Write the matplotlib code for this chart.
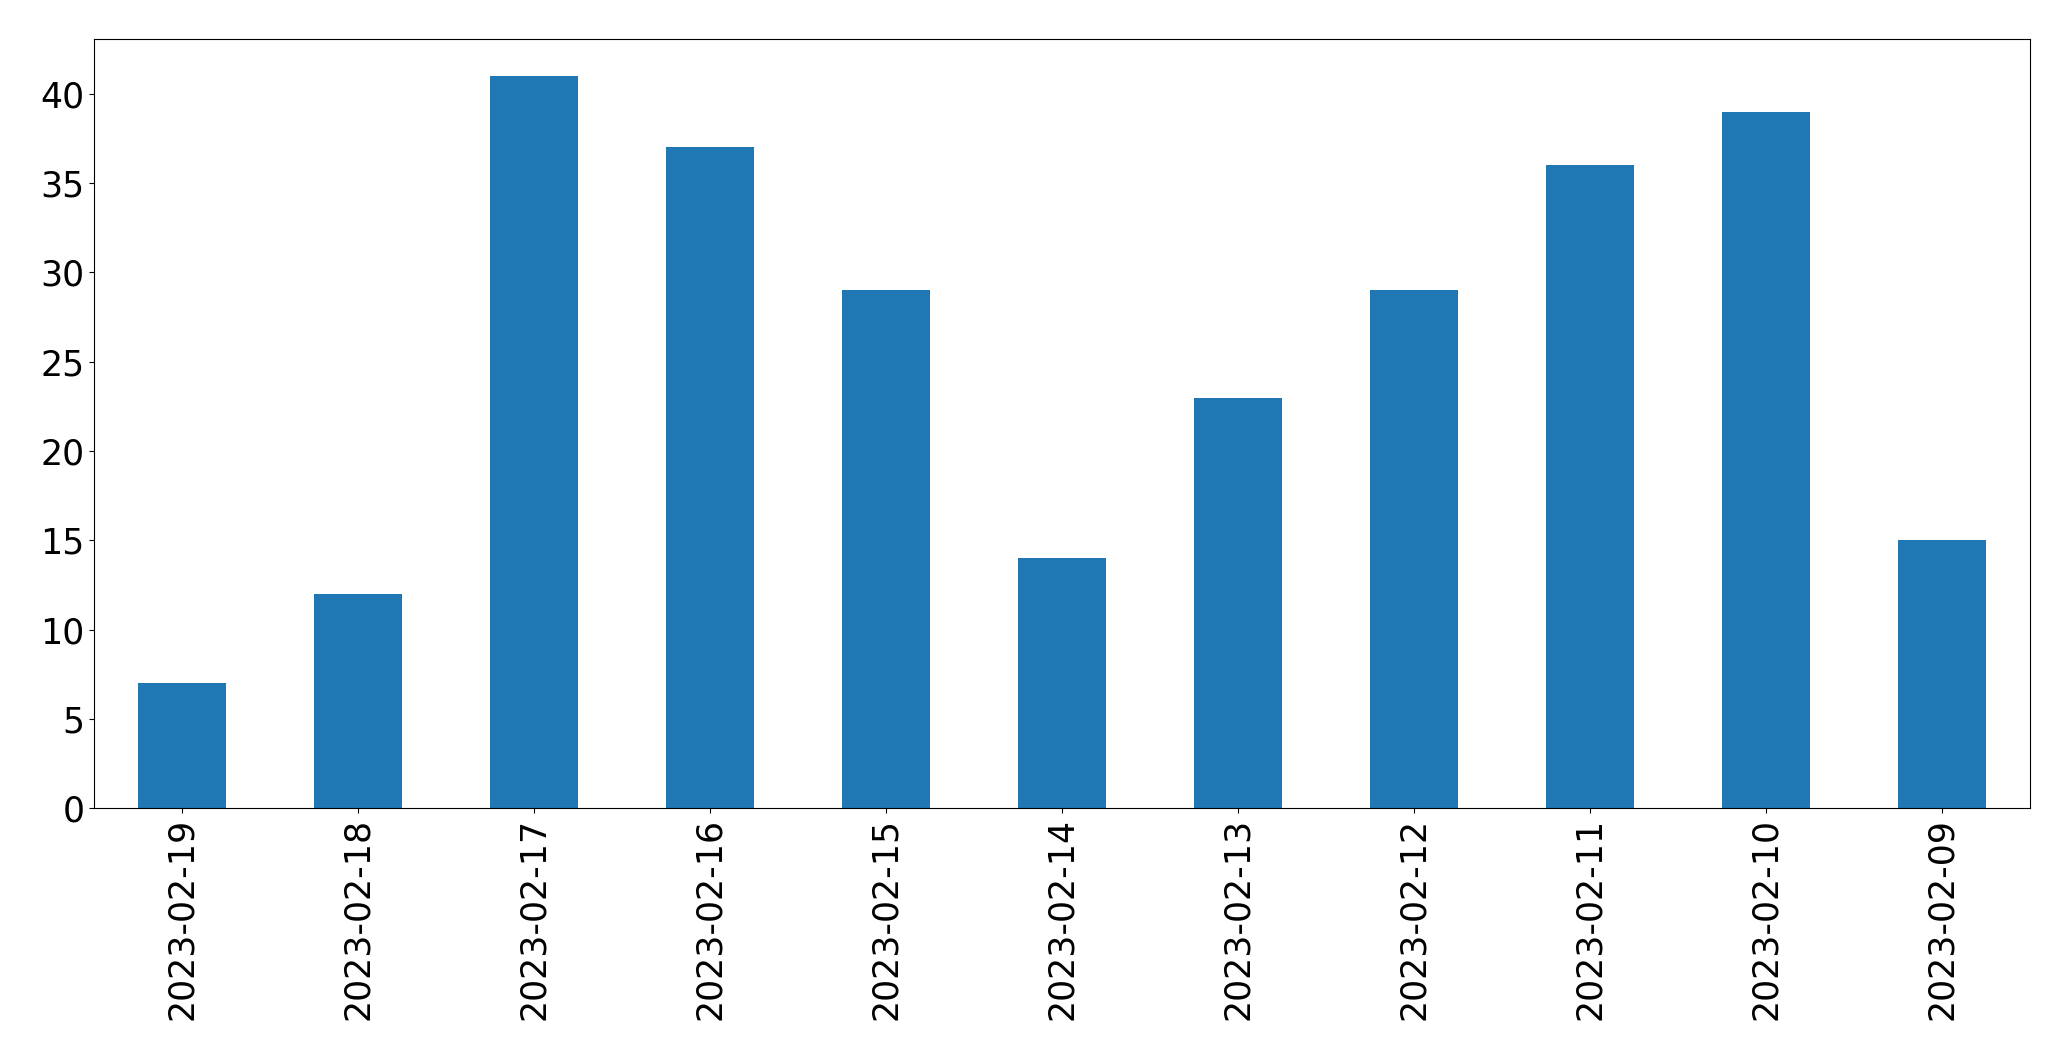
import matplotlib
matplotlib.use('Agg')
import matplotlib.pyplot as plt
import pandas as pd

dates = ['2023-02-19', '2023-02-18', '2023-02-17', '2023-02-16', '2023-02-15', '2023-02-14',
         '2023-02-13', '2023-02-12', '2023-02-11', '2023-02-10', '2023-02-09']
counts = [7, 12, 41, 37, 29, 14, 23, 29, 36, 39, 15]

s = pd.Series(counts, index=dates)

fig, ax = plt.subplots(figsize=(20.71, 10.61), dpi=100)
s.plot(kind='bar', ax=ax, color='#1f77b4')
ax.tick_params(axis='both', labelsize=25)
fig.subplots_adjust(left=0.0454, right=0.9802, top=0.963, bottom=0.238)

plt.savefig('out.png')
